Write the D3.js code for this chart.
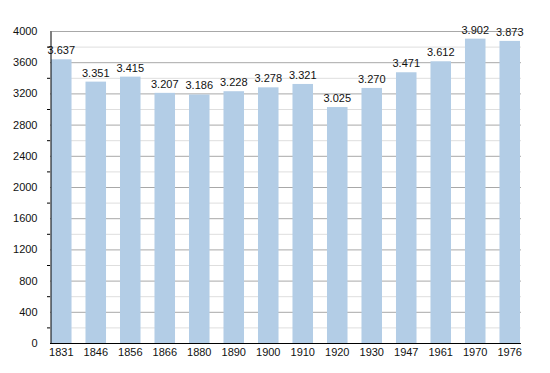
<!DOCTYPE html>
<html>
<head>
<meta charset="utf-8">
<script src="https://cdn.jsdelivr.net/npm/d3@7"></script>
<style>
  body { margin: 0; background: #fff; }
  text { font-family: "Liberation Sans", Arial, sans-serif; }
</style>
</head>
<body>
<svg id="chart" width="550" height="373"></svg>
<script>
const years = ["1831", "1846", "1856", "1866", "1880", "1890", "1900", "1910", "1920", "1930", "1947", "1961", "1970", "1976"];
const population = [3637, 3351, 3415, 3207, 3186, 3228, 3278, 3321, 3025, 3270, 3471, 3612, 3902, 3873];
const yTicks = [0, 400, 800, 1200, 1600, 2000, 2400, 2800, 3200, 3600, 4000];
const yMinorTicks = [200, 600, 1000, 1400, 1800, 2200, 2600, 3000, 3400, 3800];

const svg = d3.select("#chart");

const plot = {left: 50, right: 521, top: 31, bottom: 343};

const x = d3.scaleBand()
    .domain(years)
    .range([plot.left + 1, plot.right - 1])
    .paddingInner(0.405)
    .paddingOuter(0);

const y = d3.scaleLinear()
    .domain([0, 4000])
    .range([plot.bottom, plot.top]);

// minor grid lines
svg.append("g")
    .selectAll("line")
    .data(yMinorTicks)
    .join("line")
    .attr("x1", plot.left)
    .attr("x2", plot.right)
    .attr("y1", d => y(d) + 0.5)
    .attr("y2", d => y(d) + 0.5)
    .attr("stroke", "#dedede")
    .attr("stroke-width", 1);

// major grid lines
svg.append("g")
    .selectAll("line")
    .data(yTicks.filter(d => d > 0))
    .join("line")
    .attr("x1", plot.left)
    .attr("x2", plot.right)
    .attr("y1", d => y(d) + 0.5)
    .attr("y2", d => y(d) + 0.5)
    .attr("stroke", "#a8a8a8")
    .attr("stroke-width", 1);

// bars
svg.append("g")
    .selectAll("rect")
    .data(population)
    .join("rect")
    .attr("x", (d, i) => x(years[i]))
    .attr("y", d => y(d))
    .attr("width", x.bandwidth())
    .attr("height", d => plot.bottom - y(d))
    .attr("fill", "#b3cde6");

// value labels (dot as thousands separator)
const fmt = d => d3.format(",")(d).replace(",", ".");
svg.append("g")
    .selectAll("text")
    .data(population)
    .join("text")
    .attr("x", (d, i) => x(years[i]) + x.bandwidth() / 2)
    .attr("y", d => y(d) - 5)
    .attr("text-anchor", "middle")
    .attr("font-size", 11)
    .attr("fill", "#111")
    .text(fmt);

// y axis
const yAxis = svg.append("g")
    .attr("transform", "translate(" + (plot.left + 0.5) + ",0)")
    .call(d3.axisLeft(y).tickValues(yTicks).tickFormat(d3.format("d")).tickSize(0).tickPadding(13));
yAxis.select(".domain").attr("stroke", "#000");
yAxis.selectAll("text").attr("font-size", 11).attr("fill", "#111")
    .style("font-family", "'Liberation Sans', Arial, sans-serif");

// minor ticks on y axis
svg.append("g")
    .selectAll("line")
    .data(yMinorTicks)
    .join("line")
    .attr("x1", plot.left - 3)
    .attr("x2", plot.left)
    .attr("y1", d => y(d) + 0.5)
    .attr("y2", d => y(d) + 0.5)
    .attr("stroke", "#000");

// x axis
const xAxis = svg.append("g")
    .attr("transform", "translate(0," + (plot.bottom + 0.5) + ")")
    .call(d3.axisBottom(x).tickSize(0).tickPadding(5).tickSizeOuter(0));
xAxis.select(".domain").attr("d", "M" + plot.left + ",0H" + plot.right).attr("stroke", "#000");
xAxis.selectAll("text").attr("font-size", 11).attr("fill", "#111")
    .style("font-family", "'Liberation Sans', Arial, sans-serif");
</script>
</body>
</html>
